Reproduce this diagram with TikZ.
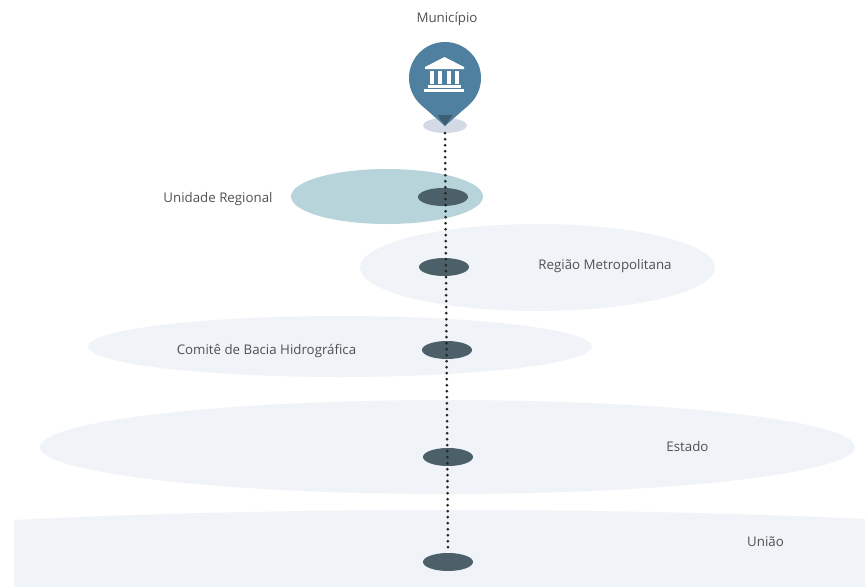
\documentclass[tikz,border=0pt]{standalone}
\usepackage{fontspec}
\setmainfont{Open Sans}
\usetikzlibrary{shapes.geometric}
\definecolor{pinblue}{HTML}{4F809F}
\definecolor{pindark}{HTML}{3D5D70}
\definecolor{shadowc}{HTML}{D3DAE6}
\definecolor{regionc}{HTML}{B7D4DB}
\definecolor{lightc}{HTML}{F0F3F8}
\definecolor{darkc}{HTML}{4B6068}
\definecolor{textc}{HTML}{505050}
\tikzset{
  x=1pt,y=-1pt,
  area/.style={ellipse,inner sep=0pt,draw=none,fill=#1},
  hub/.style={ellipse,inner sep=0pt,draw=none,fill=darkc,minimum width=50pt,minimum height=18pt},
  lbl/.style={font=\fontsize{13.3}{15}\selectfont,text=textc,inner sep=0pt},
  dots/.style={line width=3pt,line cap=round,dash pattern=on 0pt off 6pt,black!85},
  icon/.style={fill=white,draw=none}
}
\begin{document}
\begin{tikzpicture}
\useasboundingbox (0,0) rectangle (865,587);
\begin{scope}
\clip (14,0) rectangle (865,586);
\node[area=lightc,minimum width=1516pt,minimum height=110pt] (uniaoA) at (450,565) {};
\end{scope}
\node[area=lightc,minimum width=815pt,minimum height=94pt] (estadoA) at (447.5,447) {};
\node[area=lightc,minimum width=504pt,minimum height=61pt] (comiteA) at (340,346.5) {};
\node[area=lightc,minimum width=355pt,minimum height=87pt] (metroA) at (537.5,267.5) {};
\node[area=regionc,minimum width=192pt,minimum height=55pt] (regA) at (387,196.5) {};
\node[area=shadowc,minimum width=44pt,minimum height=15pt] (base) at (445,125.5) {};
\node[hub] (h1) at (443,197) {};
\node[hub] (h2) at (444,267) {};
\node[hub] (h3) at (447,350) {};
\node[hub] (h4) at (448,457) {};
\node[hub] (h5) at (448,562) {};
\draw[dots] (base.south) -- (h5.north);
% pin
\fill[pinblue] (445,78) circle[radius=36pt];
\fill[pinblue] (445,126) -- (421.2,105) -- (468.8,105) -- cycle;
\fill[pindark] (445,126) -- (437.5,115) -- (452.5,115) -- cycle;
% building
\fill[icon] (444.5,57) -- (425,67) -- (425,69) -- (464,69) -- (464,67) -- cycle;
\fill[icon] (430,71) rectangle (434,84);
\fill[icon] (438,71) rectangle (442,84);
\fill[icon] (447,71) rectangle (451,84);
\fill[icon] (455,71) rectangle (459,84);
\fill[icon] (428,85) rectangle (461,88);
\fill[icon] (424,89) rectangle (464,92);
\node[lbl] (t1) at (447,19) {Município};
\node[lbl] (t2) at (218,199) {Unidade Regional};
\node[lbl] (t3) at (605,266) {Região Metropolitana};
\node[lbl] (t4) at (266.5,351) {Comitê de Bacia Hidrográfica};
\node[lbl] (t5) at (687.5,447) {Estado};
\node[lbl] (t6) at (765.5,542) {União};
\end{tikzpicture}
\end{document}
